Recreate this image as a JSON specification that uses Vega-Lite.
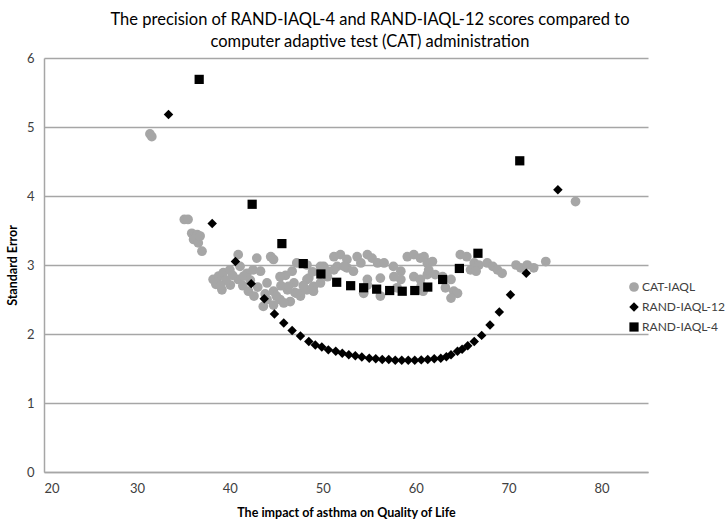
{
  "$schema": "https://vega.github.io/schema/vega-lite/v6.json",
  "width": 604,
  "height": 414,
  "autosize": {"type": "none"},
  "padding": {"left": 44, "top": 58, "right": 80, "bottom": 55},
  "background": "white",
  "title": {
    "text": ["The precision of RAND-IAQL-4 and RAND-IAQL-12 scores compared to", "computer adaptive test (CAT) administration"],
    "font": "Lato",
    "fontSize": 16.5,
    "fontWeight": "normal",
    "color": "#000000",
    "anchor": "middle",
    "dx": 24,
    "lineHeight": 22,
    "offset": 2
  },
  "config": {
    "view": {"stroke": null},
    "font": "Lato"
  },
  "data": {
    "values": [
      {"series": "CAT-IAQL", "impact": 31.4, "se": 4.9},
      {"series": "CAT-IAQL", "impact": 31.6, "se": 4.86},
      {"series": "CAT-IAQL", "impact": 35.1, "se": 3.66},
      {"series": "CAT-IAQL", "impact": 35.5, "se": 3.66},
      {"series": "CAT-IAQL", "impact": 35.9, "se": 3.46},
      {"series": "CAT-IAQL", "impact": 36.2, "se": 3.4},
      {"series": "CAT-IAQL", "impact": 36.5, "se": 3.44},
      {"series": "CAT-IAQL", "impact": 36.1, "se": 3.37},
      {"series": "CAT-IAQL", "impact": 36.6, "se": 3.32},
      {"series": "CAT-IAQL", "impact": 36.8, "se": 3.42},
      {"series": "CAT-IAQL", "impact": 37.0, "se": 3.2},
      {"series": "CAT-IAQL", "impact": 38.2, "se": 2.79},
      {"series": "CAT-IAQL", "impact": 38.5, "se": 2.72},
      {"series": "CAT-IAQL", "impact": 38.8, "se": 2.84},
      {"series": "CAT-IAQL", "impact": 39.3, "se": 2.89},
      {"series": "CAT-IAQL", "impact": 40.0, "se": 2.93},
      {"series": "CAT-IAQL", "impact": 41.1, "se": 2.98},
      {"series": "CAT-IAQL", "impact": 39.15, "se": 2.64},
      {"series": "CAT-IAQL", "impact": 40.05, "se": 2.71},
      {"series": "CAT-IAQL", "impact": 40.9, "se": 2.79},
      {"series": "CAT-IAQL", "impact": 41.85, "se": 2.88},
      {"series": "CAT-IAQL", "impact": 42.5, "se": 2.93},
      {"series": "CAT-IAQL", "impact": 43.3, "se": 2.91},
      {"series": "CAT-IAQL", "impact": 44.0, "se": 2.74},
      {"series": "CAT-IAQL", "impact": 44.7, "se": 2.62},
      {"series": "CAT-IAQL", "impact": 43.6, "se": 2.4},
      {"series": "CAT-IAQL", "impact": 45.4, "se": 2.5},
      {"series": "CAT-IAQL", "impact": 46.2, "se": 2.64},
      {"series": "CAT-IAQL", "impact": 46.9, "se": 2.74},
      {"series": "CAT-IAQL", "impact": 47.6, "se": 2.59},
      {"series": "CAT-IAQL", "impact": 46.7, "se": 2.91},
      {"series": "CAT-IAQL", "impact": 44.4, "se": 3.12},
      {"series": "CAT-IAQL", "impact": 42.9, "se": 3.1},
      {"series": "CAT-IAQL", "impact": 40.9, "se": 3.15},
      {"series": "CAT-IAQL", "impact": 44.7, "se": 3.08},
      {"series": "CAT-IAQL", "impact": 48.5, "se": 2.81},
      {"series": "CAT-IAQL", "impact": 49.0, "se": 2.69},
      {"series": "CAT-IAQL", "impact": 48.9, "se": 2.9},
      {"series": "CAT-IAQL", "impact": 49.75, "se": 2.88},
      {"series": "CAT-IAQL", "impact": 47.2, "se": 3.03},
      {"series": "CAT-IAQL", "impact": 48.3, "se": 3.0},
      {"series": "CAT-IAQL", "impact": 51.2, "se": 3.12},
      {"series": "CAT-IAQL", "impact": 51.9, "se": 3.15},
      {"series": "CAT-IAQL", "impact": 52.6, "se": 3.08},
      {"series": "CAT-IAQL", "impact": 53.7, "se": 3.12},
      {"series": "CAT-IAQL", "impact": 54.8, "se": 3.15},
      {"series": "CAT-IAQL", "impact": 55.3, "se": 3.1},
      {"series": "CAT-IAQL", "impact": 55.9, "se": 3.03},
      {"series": "CAT-IAQL", "impact": 54.1, "se": 3.03},
      {"series": "CAT-IAQL", "impact": 51.55, "se": 2.98},
      {"series": "CAT-IAQL", "impact": 52.6, "se": 2.96},
      {"series": "CAT-IAQL", "impact": 50.1, "se": 2.98},
      {"series": "CAT-IAQL", "impact": 50.5, "se": 2.83},
      {"series": "CAT-IAQL", "impact": 53.3, "se": 2.91},
      {"series": "CAT-IAQL", "impact": 54.4, "se": 2.59},
      {"series": "CAT-IAQL", "impact": 54.8, "se": 2.71},
      {"series": "CAT-IAQL", "impact": 48.3, "se": 2.64},
      {"series": "CAT-IAQL", "impact": 46.5, "se": 2.47},
      {"series": "CAT-IAQL", "impact": 56.6, "se": 3.03},
      {"series": "CAT-IAQL", "impact": 57.6, "se": 2.98},
      {"series": "CAT-IAQL", "impact": 58.4, "se": 2.91},
      {"series": "CAT-IAQL", "impact": 59.1, "se": 3.12},
      {"series": "CAT-IAQL", "impact": 59.8, "se": 3.15},
      {"series": "CAT-IAQL", "impact": 60.5, "se": 3.1},
      {"series": "CAT-IAQL", "impact": 61.25, "se": 3.03},
      {"series": "CAT-IAQL", "impact": 58.4, "se": 2.79},
      {"series": "CAT-IAQL", "impact": 57.65, "se": 2.83},
      {"series": "CAT-IAQL", "impact": 59.8, "se": 2.83},
      {"series": "CAT-IAQL", "impact": 60.5, "se": 2.79},
      {"series": "CAT-IAQL", "impact": 61.25, "se": 2.86},
      {"series": "CAT-IAQL", "impact": 54.8, "se": 2.79},
      {"series": "CAT-IAQL", "impact": 56.2, "se": 2.81},
      {"series": "CAT-IAQL", "impact": 52.3, "se": 2.98},
      {"series": "CAT-IAQL", "impact": 51.2, "se": 2.93},
      {"series": "CAT-IAQL", "impact": 49.75, "se": 2.98},
      {"series": "CAT-IAQL", "impact": 48.3, "se": 2.79},
      {"series": "CAT-IAQL", "impact": 49.0, "se": 2.62},
      {"series": "CAT-IAQL", "impact": 47.6, "se": 2.55},
      {"series": "CAT-IAQL", "impact": 50.5, "se": 2.91},
      {"series": "CAT-IAQL", "impact": 49.75, "se": 2.74},
      {"series": "CAT-IAQL", "impact": 58.0, "se": 2.67},
      {"series": "CAT-IAQL", "impact": 56.2, "se": 2.55},
      {"series": "CAT-IAQL", "impact": 60.9, "se": 3.12},
      {"series": "CAT-IAQL", "impact": 61.8, "se": 3.05},
      {"series": "CAT-IAQL", "impact": 61.4, "se": 2.93},
      {"series": "CAT-IAQL", "impact": 62.1, "se": 2.86},
      {"series": "CAT-IAQL", "impact": 62.9, "se": 2.83},
      {"series": "CAT-IAQL", "impact": 63.8, "se": 2.79},
      {"series": "CAT-IAQL", "impact": 63.2, "se": 2.67},
      {"series": "CAT-IAQL", "impact": 64.1, "se": 2.62},
      {"series": "CAT-IAQL", "impact": 64.5, "se": 2.59},
      {"series": "CAT-IAQL", "impact": 63.8, "se": 2.52},
      {"series": "CAT-IAQL", "impact": 64.8, "se": 3.15},
      {"series": "CAT-IAQL", "impact": 65.5, "se": 3.12},
      {"series": "CAT-IAQL", "impact": 66.3, "se": 3.03},
      {"series": "CAT-IAQL", "impact": 66.8, "se": 3.0},
      {"series": "CAT-IAQL", "impact": 67.7, "se": 3.03},
      {"series": "CAT-IAQL", "impact": 68.3, "se": 2.98},
      {"series": "CAT-IAQL", "impact": 68.8, "se": 2.93},
      {"series": "CAT-IAQL", "impact": 69.3, "se": 2.88},
      {"series": "CAT-IAQL", "impact": 70.8, "se": 3.0},
      {"series": "CAT-IAQL", "impact": 71.3, "se": 2.96},
      {"series": "CAT-IAQL", "impact": 72.0, "se": 3.0},
      {"series": "CAT-IAQL", "impact": 72.7, "se": 2.96},
      {"series": "CAT-IAQL", "impact": 74.0, "se": 3.05},
      {"series": "CAT-IAQL", "impact": 65.9, "se": 2.93},
      {"series": "CAT-IAQL", "impact": 66.5, "se": 2.91},
      {"series": "CAT-IAQL", "impact": 60.6, "se": 2.7},
      {"series": "CAT-IAQL", "impact": 60.8, "se": 2.62},
      {"series": "CAT-IAQL", "impact": 38.6, "se": 2.75},
      {"series": "CAT-IAQL", "impact": 39.6, "se": 2.78},
      {"series": "CAT-IAQL", "impact": 40.3, "se": 2.85},
      {"series": "CAT-IAQL", "impact": 41.4, "se": 2.7},
      {"series": "CAT-IAQL", "impact": 42.0, "se": 2.62},
      {"series": "CAT-IAQL", "impact": 42.6, "se": 2.55},
      {"series": "CAT-IAQL", "impact": 43.0, "se": 2.68},
      {"series": "CAT-IAQL", "impact": 45.0, "se": 2.55},
      {"series": "CAT-IAQL", "impact": 45.8, "se": 2.45},
      {"series": "CAT-IAQL", "impact": 41.5, "se": 2.84},
      {"series": "CAT-IAQL", "impact": 39.0, "se": 2.7},
      {"series": "CAT-IAQL", "impact": 42.2, "se": 2.78},
      {"series": "CAT-IAQL", "impact": 43.8, "se": 2.58},
      {"series": "CAT-IAQL", "impact": 45.5, "se": 2.7},
      {"series": "CAT-IAQL", "impact": 47.0, "se": 2.6},
      {"series": "CAT-IAQL", "impact": 46.0, "se": 2.85},
      {"series": "CAT-IAQL", "impact": 47.9, "se": 2.7},
      {"series": "CAT-IAQL", "impact": 45.4, "se": 2.83},
      {"series": "CAT-IAQL", "impact": 46.3, "se": 2.69},
      {"series": "CAT-IAQL", "impact": 47.2, "se": 2.59},
      {"series": "CAT-IAQL", "impact": 44.0, "se": 2.5},
      {"series": "CAT-IAQL", "impact": 44.7, "se": 2.42},
      {"series": "CAT-IAQL", "impact": 77.2, "se": 3.92},
      {"series": "RAND-IAQL-12", "impact": 33.4, "se": 5.18},
      {"series": "RAND-IAQL-12", "impact": 38.1, "se": 3.6},
      {"series": "RAND-IAQL-12", "impact": 40.6, "se": 3.05},
      {"series": "RAND-IAQL-12", "impact": 42.3, "se": 2.73},
      {"series": "RAND-IAQL-12", "impact": 43.7, "se": 2.51},
      {"series": "RAND-IAQL-12", "impact": 44.8, "se": 2.29},
      {"series": "RAND-IAQL-12", "impact": 45.8, "se": 2.16},
      {"series": "RAND-IAQL-12", "impact": 46.7, "se": 2.05},
      {"series": "RAND-IAQL-12", "impact": 47.6, "se": 1.97},
      {"series": "RAND-IAQL-12", "impact": 48.5, "se": 1.89},
      {"series": "RAND-IAQL-12", "impact": 49.2, "se": 1.84},
      {"series": "RAND-IAQL-12", "impact": 49.9, "se": 1.81},
      {"series": "RAND-IAQL-12", "impact": 50.6, "se": 1.77},
      {"series": "RAND-IAQL-12", "impact": 51.4, "se": 1.75},
      {"series": "RAND-IAQL-12", "impact": 52.1, "se": 1.72},
      {"series": "RAND-IAQL-12", "impact": 52.8, "se": 1.7},
      {"series": "RAND-IAQL-12", "impact": 53.5, "se": 1.685},
      {"series": "RAND-IAQL-12", "impact": 54.2, "se": 1.667},
      {"series": "RAND-IAQL-12", "impact": 55.0, "se": 1.65},
      {"series": "RAND-IAQL-12", "impact": 55.7, "se": 1.64},
      {"series": "RAND-IAQL-12", "impact": 56.4, "se": 1.63},
      {"series": "RAND-IAQL-12", "impact": 57.1, "se": 1.63},
      {"series": "RAND-IAQL-12", "impact": 57.8, "se": 1.62},
      {"series": "RAND-IAQL-12", "impact": 58.5, "se": 1.62},
      {"series": "RAND-IAQL-12", "impact": 59.2, "se": 1.62},
      {"series": "RAND-IAQL-12", "impact": 59.9, "se": 1.62},
      {"series": "RAND-IAQL-12", "impact": 60.6, "se": 1.625},
      {"series": "RAND-IAQL-12", "impact": 61.3, "se": 1.63},
      {"series": "RAND-IAQL-12", "impact": 62.0, "se": 1.64},
      {"series": "RAND-IAQL-12", "impact": 62.7, "se": 1.65},
      {"series": "RAND-IAQL-12", "impact": 63.3, "se": 1.67},
      {"series": "RAND-IAQL-12", "impact": 63.8, "se": 1.7},
      {"series": "RAND-IAQL-12", "impact": 64.5, "se": 1.75},
      {"series": "RAND-IAQL-12", "impact": 65.0, "se": 1.78},
      {"series": "RAND-IAQL-12", "impact": 65.6, "se": 1.83},
      {"series": "RAND-IAQL-12", "impact": 66.3, "se": 1.89},
      {"series": "RAND-IAQL-12", "impact": 67.1, "se": 1.98},
      {"series": "RAND-IAQL-12", "impact": 68.0, "se": 2.13},
      {"series": "RAND-IAQL-12", "impact": 69.0, "se": 2.32},
      {"series": "RAND-IAQL-12", "impact": 70.2, "se": 2.57},
      {"series": "RAND-IAQL-12", "impact": 71.9, "se": 2.88},
      {"series": "RAND-IAQL-12", "impact": 75.3, "se": 4.09},
      {"series": "RAND-IAQL-4", "impact": 36.7, "se": 5.69},
      {"series": "RAND-IAQL-4", "impact": 42.4, "se": 3.88},
      {"series": "RAND-IAQL-4", "impact": 45.6, "se": 3.31},
      {"series": "RAND-IAQL-4", "impact": 47.9, "se": 3.02},
      {"series": "RAND-IAQL-4", "impact": 49.8, "se": 2.87},
      {"series": "RAND-IAQL-4", "impact": 51.5, "se": 2.75},
      {"series": "RAND-IAQL-4", "impact": 53.0, "se": 2.7},
      {"series": "RAND-IAQL-4", "impact": 54.4, "se": 2.67},
      {"series": "RAND-IAQL-4", "impact": 55.8, "se": 2.65},
      {"series": "RAND-IAQL-4", "impact": 57.2, "se": 2.63},
      {"series": "RAND-IAQL-4", "impact": 58.55, "se": 2.62},
      {"series": "RAND-IAQL-4", "impact": 59.9, "se": 2.63},
      {"series": "RAND-IAQL-4", "impact": 61.3, "se": 2.68},
      {"series": "RAND-IAQL-4", "impact": 62.9, "se": 2.79},
      {"series": "RAND-IAQL-4", "impact": 64.7, "se": 2.95},
      {"series": "RAND-IAQL-4", "impact": 66.7, "se": 3.17},
      {"series": "RAND-IAQL-4", "impact": 71.2, "se": 4.51}
    ]
  },
  "mark": {"type": "point", "filled": true, "opacity": 1},
  "encoding": {
    "x": {
      "field": "impact",
      "type": "quantitative",
      "scale": {"domain": [20, 85], "nice": false, "zero": false},
      "axis": {
        "title": "The impact of asthma on Quality of Life",
        "values": [20, 30, 40, 50, 60, 70, 80],
        "grid": false,
        "ticks": false,
        "domainColor": "#a6a6a6",
        "domainWidth": 1.5,
        "labelColor": "#404040",
        "labelFont": "Lato",
        "labelFontSize": 13,
        "labelPadding": 10,
        "titleFont": "Lato",
        "titleFontSize": 12.5,
        "titleFontWeight": "bold",
        "titleColor": "#000000",
        "titlePadding": 11
      }
    },
    "y": {
      "field": "se",
      "type": "quantitative",
      "scale": {"domain": [0, 6], "nice": false},
      "axis": {
        "title": "Standard Error",
        "values": [0, 1, 2, 3, 4, 5, 6],
        "grid": true,
        "gridColor": "#a6a6a6",
        "gridWidth": 1.5,
        "ticks": false,
        "domainColor": "#a6a6a6",
        "domainWidth": 1.5,
        "labelColor": "#404040",
        "labelFont": "Lato",
        "labelFontSize": 13,
        "labelPadding": 10,
        "titleFont": "Lato",
        "titleFontSize": 12.5,
        "titleFontWeight": "bold",
        "titleColor": "#000000",
        "titlePadding": 7
      }
    },
    "color": {
      "field": "series",
      "type": "nominal",
      "scale": {"domain": ["CAT-IAQL", "RAND-IAQL-12", "RAND-IAQL-4"], "range": ["#a6a6a6", "#000000", "#000000"]},
      "legend": {
        "title": null,
        "orient": "none",
        "legendX": 584,
        "legendY": 223,
        "labelFont": "Lato",
        "labelFontSize": 12,
        "labelColor": "#404040",
        "symbolSize": 70,
        "rowPadding": 8,
        "labelOffset": 2
      }
    },
    "shape": {
      "field": "series",
      "type": "nominal",
      "scale": {"domain": ["CAT-IAQL", "RAND-IAQL-12", "RAND-IAQL-4"], "range": ["circle", "diamond", "square"]},
      "legend": null
    },
    "size": {
      "field": "series",
      "type": "nominal",
      "scale": {"domain": ["CAT-IAQL", "RAND-IAQL-12", "RAND-IAQL-4"], "range": [95, 85, 95]},
      "legend": null
    }
  }
}
